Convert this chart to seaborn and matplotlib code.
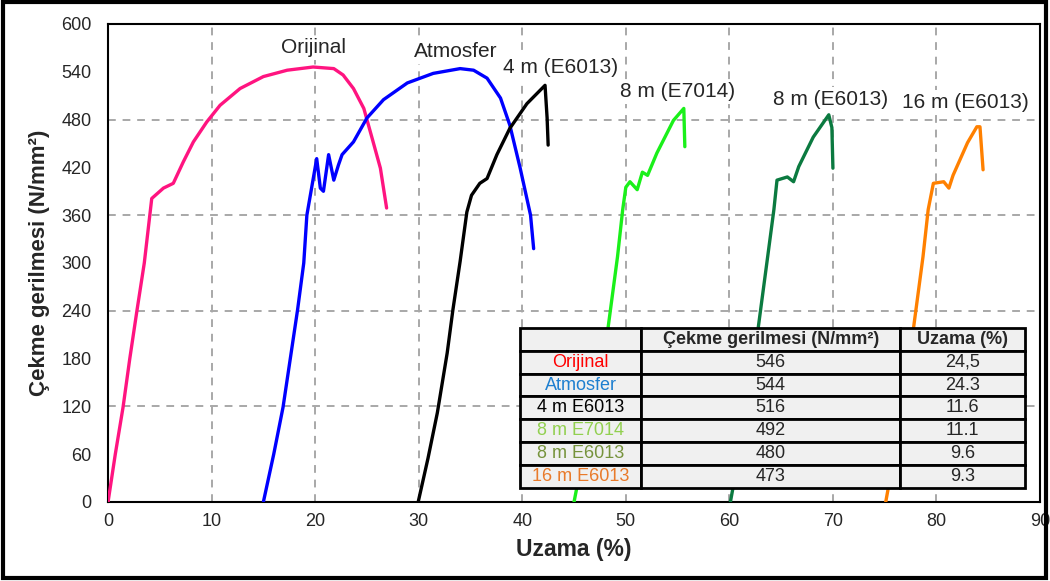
import pandas as pd
import seaborn as sns
from matplotlib import pyplot as plt
from matplotlib.patches import Rectangle

# curves (Uzama %, stress N/mm2)
orijinal_x = [0, 0.7, 1.45, 2.1, 2.8, 3.5, 4.06, 4.22, 5.35, 6.3, 7.27, 8.24, 9.53, 10.82, 12.75, 15.0, 17.3, 19.8,
              21.8, 22.7, 23.7, 24.7, 25.6, 26.3, 26.9]
orijinal_y = [0, 60, 119, 180, 241, 300, 363, 381, 394, 400, 427, 452, 477, 498, 519, 534, 542, 546,
              544, 536, 519, 494, 452, 419, 369]

atmosfer_x = [15.0, 16.0, 16.9, 17.6, 18.3, 18.9, 19.2, 20.15, 20.5, 20.8, 21.3, 21.8, 22.25, 22.6, 23.7, 25.0,
              26.6, 28.9, 31.4, 34.0, 35.3, 36.6, 37.9, 38.8, 39.8, 40.8, 41.1]
atmosfer_y = [0, 60, 119, 180, 241, 300, 360, 431, 394, 390, 436, 404, 423, 436, 452, 482,
              505, 526, 538, 544, 542, 532, 507, 473, 419, 360, 318]

m4_e6013_x = [29.95, 30.9, 31.8, 32.75, 33.3, 34.0, 34.65, 35.1, 35.9, 36.6, 37.55, 38.8, 40.45, 42.2, 42.4, 42.5]
m4_e6013_y = [0, 55, 112, 187, 241, 302, 364, 385, 400, 406, 436, 469, 500, 523, 482, 448]

m8_e7014_x = [45.0, 46.5, 48.3, 49.2, 49.7, 50.0, 50.4, 51.1, 51.6, 52.1, 53.0, 54.6, 55.6, 55.7]
m8_e7014_y = [0, 100, 220, 308, 367, 395, 402, 392, 414, 410, 438, 479, 494, 446]

m8_e6013_x = [60.1, 61.5, 62.8, 63.7, 64.3, 64.6, 65.6, 66.2, 66.7, 68.1, 69.6, 69.9, 70.0]
m8_e6013_y = [0, 100, 220, 308, 367, 404, 408, 402, 421, 458, 486, 470, 419]

m16_e6013_x = [75.1, 76.5, 77.8, 78.7, 79.2, 79.7, 80.7, 81.2, 81.6, 83.0, 83.9, 84.2, 84.5]
m16_e6013_y = [0, 100, 220, 308, 367, 400, 402, 394, 410, 451, 471, 471, 417]

series_names = ['Orijinal', 'Atmosfer', '4 m (E6013)', '8 m (E7014)', '8 m (E6013)', '16 m (E6013)']
series_colors = ['#FF1480', '#0000FF', '#000000', '#1AF01A', '#0B7A40', '#FF8000']
label_x = [19.8, 33.6, 43.7, 55.0, 69.8, 82.8]
label_y = [570, 565, 545, 515, 505, 502]

# table
table_rows = ['Orijinal', 'Atmosfer', '4 m E6013', '8 m E7014', '8 m E6013', '16 m E6013']
table_colors = ['#FF0000', '#1E7FD0', '#000000', '#92D050', '#76933C', '#E97A2A']
cekme = ['546', '544', '516', '492', '480', '473']
uzama = ['24,5', '24.3', '11.6', '11.1', '9.6', '9.3']
table_header = ['', 'Çekme gerilmesi (N/mm²)', 'Uzama (%)']

curves = [(orijinal_x, orijinal_y), (atmosfer_x, atmosfer_y), (m4_e6013_x, m4_e6013_y),
          (m8_e7014_x, m8_e7014_y), (m8_e6013_x, m8_e6013_y), (m16_e6013_x, m16_e6013_y)]
frames = []
for name, (xs, ys) in zip(series_names, curves):
    frames.append(pd.DataFrame({'uzama': xs, 'gerilme': ys, 'seri': name}))
data = pd.concat(frames, ignore_index=True)

sns.set_style('white')
plt.rcParams['font.family'] = ['Liberation Sans', 'DejaVu Sans']

fig = plt.figure(figsize=(10.5, 5.81), dpi=100)
ax = fig.add_axes([0.1029, 0.1360, 0.8876, 0.8227])

sns.lineplot(data=data, x='uzama', y='gerilme', hue='seri', palette=dict(zip(series_names, series_colors)),
             sort=False, estimator=None, linewidth=2.4, legend=False, ax=ax, zorder=3)

ax.set_xlim(0, 90)
ax.set_ylim(0, 600)
ax.set_xticks(range(0, 91, 10))
ax.set_yticks(range(0, 601, 60))
for v in range(10, 90, 10):
    ax.axvline(v, color='#A8A8A8', ls=(0, (4, 3.5)), lw=1.4, zorder=1)
for v in [120, 240, 360, 480]:
    ax.axhline(v, color='#A8A8A8', ls=(0, (4, 3.5)), lw=1.4, zorder=1)

ax.tick_params(axis='x', direction='in', length=12, width=1.2, pad=8)
ax.tick_params(axis='y', direction='inout', length=12, width=1.2, pad=6)
for lab in ax.get_xticklabels() + ax.get_yticklabels():
    lab.set_fontfamily(['Liberation Sans Narrow', 'Liberation Sans'])
    lab.set_fontsize(13)
for s in ax.spines.values():
    s.set_color('black')
    s.set_linewidth(1.5)

ax.set_xlabel('Uzama (%)', fontsize=16.5, fontweight='bold', labelpad=6)
ax.set_ylabel('Çekme gerilmesi (N/mm²)', fontsize=16, fontweight='bold', labelpad=8)

for name, lx, ly in zip(series_names, label_x, label_y):
    ax.text(lx, ly, name, fontsize=15, ha='center', va='center', zorder=4,
            bbox=dict(facecolor='white', edgecolor='none', pad=2))

cell_text = [[r, c, u] for r, c, u in zip(table_rows, cekme, uzama)]
tbl = ax.table(cellText=cell_text, colLabels=table_header, cellLoc='center',
               colWidths=[0.24, 0.513, 0.247], bbox=[0.442, 0.0293, 0.542, 0.335])
tbl.auto_set_font_size(False)
tbl.set_zorder(6)
for (r, c), cell in tbl.get_celld().items():
    cell.set_facecolor('#F0F0F0')
    cell.set_edgecolor('black')
    cell.set_linewidth(2)
    cell.get_text().set_fontsize(13)
    if r == 0:
        cell.get_text().set_fontweight('bold')
    elif c == 0:
        cell.get_text().set_color(table_colors[r - 1])

fig.add_artist(Rectangle((0.003, 0.006), 0.993, 0.99, transform=fig.transFigure,
                         fill=False, edgecolor='black', linewidth=3))

fig.savefig('out.png', dpi=100)
